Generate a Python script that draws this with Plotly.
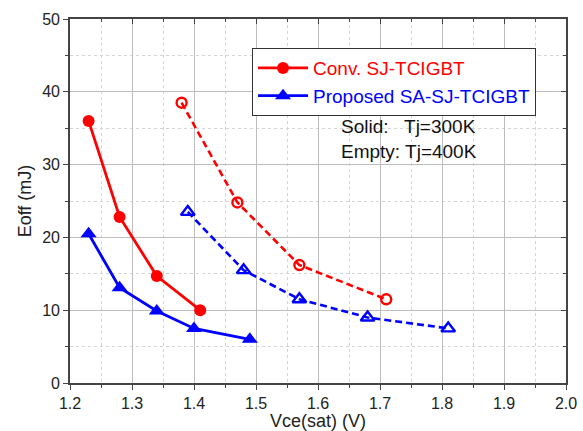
import plotly.graph_objects as go

# Turn-off energy vs. on-state voltage
conv_300_x = [1.23, 1.28, 1.34, 1.41]
conv_300_y = [36.0, 22.8, 14.7, 10.0]
prop_300_x = [1.23, 1.28, 1.34, 1.40, 1.49]
prop_300_y = [20.5, 13.1, 9.9, 7.5, 6.0]
conv_400_x = [1.38, 1.47, 1.57, 1.71]
conv_400_y = [38.5, 24.8, 16.2, 11.5]
prop_400_x = [1.39, 1.48, 1.57, 1.68, 1.81]
prop_400_y = [23.5, 15.5, 11.5, 9.0, 7.5]

RED = "#ff0000"
BLUE = "#0000ff"
FONT = "Liberation Sans, Arial, sans-serif"
AXC = "#444444"

fig = go.Figure()

fig.add_trace(go.Scatter(
    x=conv_300_x, y=conv_300_y, mode="lines+markers",
    name="<span style='color:#ff0000'>Conv. SJ-TCIGBT</span>",
    line=dict(color=RED, width=2.8),
    marker=dict(symbol="circle", size=12, color=RED),
))
fig.add_trace(go.Scatter(
    x=prop_300_x, y=prop_300_y, mode="lines+markers",
    name="<span style='color:#0000ff'>Proposed SA-SJ-TCIGBT</span>",
    line=dict(color=BLUE, width=2.8),
    marker=dict(symbol="triangle-up", size=14, color=BLUE),
))
fig.add_trace(go.Scatter(
    x=conv_400_x, y=conv_400_y, mode="lines+markers", showlegend=False,
    line=dict(color=RED, width=2.6, dash="7px,4px"),
    marker=dict(symbol="circle-open", size=10, color=RED, line=dict(width=2.4)),
))
fig.add_trace(go.Scatter(
    x=prop_400_x, y=prop_400_y, mode="lines+markers", showlegend=False,
    line=dict(color=BLUE, width=2.6, dash="7px,4px"),
    marker=dict(symbol="triangle-up-open", size=12, color=BLUE, line=dict(width=2.4)),
))

axis_common = dict(
    showline=True, linecolor=AXC, linewidth=1.6, mirror=True,
    ticks="outside", ticklen=5, tickcolor=AXC, tickwidth=1.2,
    showgrid=True, gridcolor="#bdbdbd", gridwidth=1,
    zeroline=False, automargin=False,
    tickfont=dict(family=FONT, size=16, color="#222222"),
    title_font=dict(family=FONT, size=18, color="#222222"),
)

fig.update_xaxes(
    **axis_common,
    range=[1.2, 2.0], dtick=0.1, tickformat=".1f",
    minor=dict(dtick=0.05, ticks="outside", ticklen=3, tickcolor=AXC,
               showgrid=True, gridcolor="#d4d4d4", griddash="dot"),
    title_text="Vce(sat) (V)", title_standoff=0,
)
fig.update_yaxes(
    **axis_common,
    range=[0, 50], dtick=10,
    minor=dict(dtick=5, ticks="outside", ticklen=3, tickcolor=AXC,
               showgrid=True, gridcolor="#d4d4d4", griddash="dot"),
    title_text="Eoff (mJ)", title_standoff=6,
)

# Tick marks pointing inward along the top and right frame
fig.update_layout(
    xaxis2=dict(overlaying="x", side="top", range=[1.2, 2.0], dtick=0.1,
                ticks="inside", ticklen=5, tickcolor=AXC, tickwidth=1.2,
                showticklabels=False, showgrid=False, zeroline=False,
                automargin=False,
                minor=dict(dtick=0.05, ticks="inside", ticklen=3, tickcolor=AXC)),
    yaxis2=dict(overlaying="y", side="right", range=[0, 50], dtick=10,
                ticks="inside", ticklen=5, tickcolor=AXC, tickwidth=1.2,
                showticklabels=False, showgrid=False, zeroline=False,
                automargin=False,
                minor=dict(dtick=5, ticks="inside", ticklen=3, tickcolor=AXC)),
)
fig.add_trace(go.Scatter(x=[None], y=[None], xaxis="x2", yaxis="y2",
                         showlegend=False, hoverinfo="skip"))

fig.add_annotation(
    xref="x", yref="y", x=1.634, y=33.5, xanchor="left", yanchor="middle",
    showarrow=False, align="left",
    text="Solid:\u00a0\u00a0 Tj=300K<br>Empty: Tj=400K",
    font=dict(family=FONT, size=19, color="#111111"),
)

fig.update_layout(
    width=583, height=431,
    margin=dict(l=70, r=17, t=19, b=48),
    paper_bgcolor="white", plot_bgcolor="white",
    showlegend=True,
    legend=dict(
        x=0.367, y=0.92, xanchor="left", yanchor="top",
        bgcolor="white", bordercolor="#333333", borderwidth=1,
        font=dict(family=FONT, size=19),
        itemwidth=50, tracegroupgap=0,
    ),
)

fig.write_html("out.html")
